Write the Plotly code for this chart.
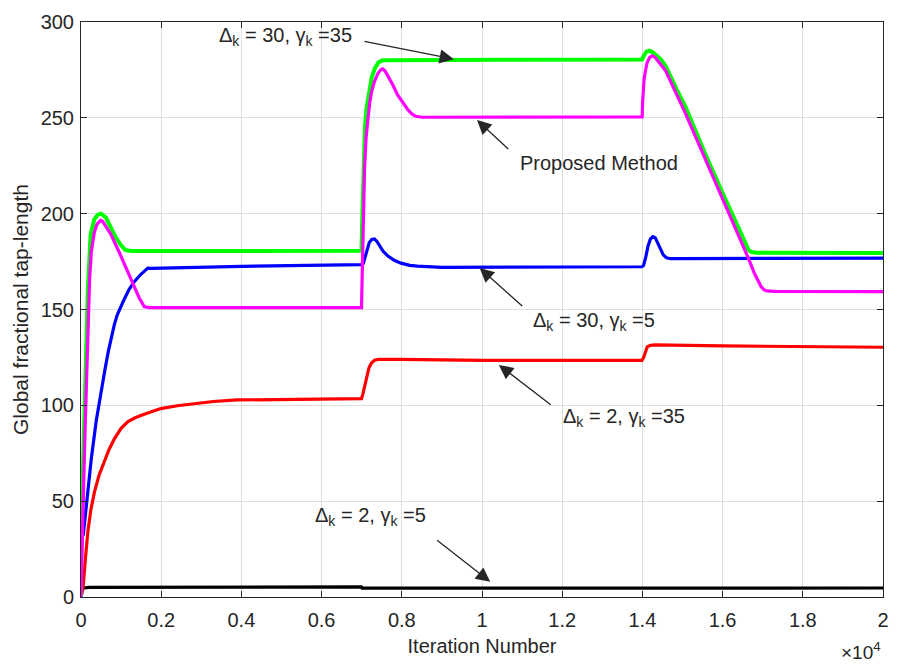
import plotly.graph_objects as go

# Iteration axis is in raw iterations; tick labels show the ×10^4 scaled values.
x_ticks = [0, 2000, 4000, 6000, 8000, 10000, 12000, 14000, 16000, 18000, 20000]
x_tick_text = ["0", "0.2", "0.4", "0.6", "0.8", "1", "1.2", "1.4", "1.6", "1.8", "2"]
y_ticks = [0, 50, 100, 150, 200, 250, 300]

# Δk = 30, γk = 35
green_x = [0, 10, 60, 100, 170, 240, 330, 420, 500, 620, 750, 870, 1000, 1110, 1250, 4000, 6995,
           7005, 7025, 7050, 7080, 7120, 7180, 7250, 7330, 7420, 7520, 9000, 13995,
           14040, 14100, 14170, 14250, 14350, 14460, 14580, 14700, 14850, 15070, 15570, 16060, 16480,
           16580, 16650, 16720, 16850, 20000]
green_y = [0, 32, 75, 110, 160, 189, 197, 199.5, 200, 198, 192.5, 187.5, 183.5, 181, 180.5, 180.5, 180.6,
           190, 210, 232, 245, 255, 264, 271, 276, 279, 280, 280, 280.5,
           282.5, 284.5, 285, 284.3, 282.5, 280.5, 277, 271.5, 265, 256, 231, 208, 189,
           184, 181, 180, 179.6, 179.5]

# Proposed method
mag_x = [0, 30, 70, 107, 132, 173, 215, 256, 330, 400, 450, 490, 540, 600, 680, 751, 950, 1163, 1350, 1452,
         1576, 1700, 6995,
         7003, 7020, 7040, 7070, 7110, 7153, 7200, 7250, 7320, 7400, 7470, 7524, 7580, 7650, 7720, 7780,
         7895, 8020, 8143, 8250, 8349, 8500, 13995,
         14005, 14020, 14041, 14080, 14120, 14180, 14248, 14320, 14400, 14490, 14578, 15073, 15650, 16228,
         16640, 16800, 16888, 16960, 17030, 17100, 17300, 20000]
mag_y = [0, 32, 62, 91, 112, 146, 166, 180, 190, 194.5, 196, 196.5, 196, 194, 191.5, 189, 180, 170, 161, 156,
         151.5, 151, 151,
         160, 180, 200, 223, 240, 250, 258, 264, 269, 273, 275, 275.5, 274.5, 272, 269.5, 267,
         262, 258, 254.5, 252, 250.8, 250.3, 250.5,
         258, 265, 270, 275, 279, 281.5, 282.3, 281.5, 279.5, 277, 274.6, 252.3, 224.9, 197.5,
         176.9, 168.5, 164.8, 162, 160.3, 159.7, 159.5, 159.3]

# Δk = 30, γk = 5
blue_x = [55, 110, 170, 256, 380, 503, 600, 680, 751, 830, 900, 1000, 1081, 1200, 1328, 1500, 1666, 1750,
          4000, 6990,
          7040, 7080, 7130, 7190, 7250, 7318, 7380, 7450, 7530, 7648, 7800, 7977, 8200, 8390, 9000, 13990,
          14030, 14080, 14140, 14200, 14260, 14320, 14380, 14450, 14520, 14600, 14700, 14900, 20000]
blue_y = [32, 43, 54, 72, 92, 108, 119, 128, 135, 142, 147, 152, 155.5, 160.5, 164.5, 168.5, 171.6, 171.5,
          172.5, 173.4,
          174, 177, 181, 185, 186.5, 186.8, 185.5, 183, 180.5, 178, 175.8, 174.2, 173, 172.6, 172, 172.3,
          173, 177, 183, 186.8, 188, 187.5, 185, 181.5, 178.5, 177, 176.5, 176.5, 176.8]

# Δk = 2, γk = 35
red_x = [0, 50, 110, 173, 250, 338, 450, 586, 700, 833, 1000, 1163, 1350, 1576, 1800, 1988, 2400, 2813,
         3300, 3886, 5420, 6995,
         7030, 7080, 7130, 7180, 7240, 7320, 7420, 8000, 10000, 13990,
         14030, 14070, 14120, 14200, 14320, 16000, 20000]
red_y = [0, 4.6, 20, 34.5, 46, 55, 63.5, 70.5, 77, 82.5, 88, 91.4, 93.5, 95.4, 97, 98.3, 99.8, 101,
         102, 102.8, 103.2, 103.5,
         106, 111, 116, 119.5, 122, 123.5, 124, 124, 123.5, 123.5,
         125, 128, 130.5, 131.3, 131.5, 131, 130.3]

# Δk = 2, γk = 5
black_x = [0, 30, 200, 3000, 6990, 7010, 12000, 20000]
black_y = [0, 4.6, 5.0, 5.2, 5.3, 4.6, 4.6, 4.7]

series = [
    (black_x, black_y, "#000000", 3.2),
    (red_x, red_y, "#ff0000", 3.2),
    (blue_x, blue_y, "#0000ff", 3.2),
    (green_x, green_y, "#00ff00", 4.0),
    (mag_x, mag_y, "#ff00ff", 3.2),
]

fig = go.Figure()
for xs, ys, col, w in series:
    fig.add_trace(go.Scatter(x=xs, y=ys, mode="lines",
                             line=dict(color=col, width=w, shape="linear"),
                             showlegend=False, hoverinfo="skip"))

FONT = "Liberation Sans, Arial, sans-serif"
INK = "#262626"

# label text: (text, x, y) anchored at the left edge
labels = [
    ("Δ<sub>k</sub> = 30, γ<sub>k</sub> =35", 3391, 292.5),
    ("Proposed Method", 10907, 226.5),
    ("Δ<sub>k</sub> = 30, γ<sub>k</sub> =5", 11227, 144.0),
    ("Δ<sub>k</sub> = 2, γ<sub>k</sub> =35", 11979, 93.5),
    ("Δ<sub>k</sub> = 2, γ<sub>k</sub> =5", 5792, 42.0),
]
# arrows: (tail x, tail y, head x, head y)
arrows = [
    (7029, 290.0, 9299, 280.6),
    (10692, 233.0, 9875, 248.9),
    (11039, 151.1, 9942, 171.7),
    (11751, 99.7, 10420, 121.1),
    (8844, 30.2, 10205, 7.9),
]

annotations = []
for t, x, y in labels:
    annotations.append(dict(text=t, x=x, y=y, xref="x", yref="y", xanchor="left", yanchor="middle",
                            showarrow=False, font=dict(family=FONT, size=20, color=INK)))
for ax, ay, hx, hy in arrows:
    annotations.append(dict(text="", x=hx, y=hy, ax=ax, ay=ay, xref="x", yref="y",
                            axref="x", ayref="y", showarrow=True, arrowhead=2,
                            arrowsize=2.2, arrowwidth=1.3, arrowcolor=INK, standoff=0, startstandoff=0))
annotations.append(dict(text="×10<sup>4</sup>", x=1.0, y=-0.094, xref="paper", yref="paper",
                        xanchor="right", yanchor="middle", showarrow=False,
                        font=dict(family=FONT, size=19, color=INK)))

axis_common = dict(showline=True, linecolor=INK, linewidth=1, mirror="ticks", ticks="inside",
                   ticklen=6, tickcolor=INK, tickwidth=1, showgrid=True, gridcolor="#dedede",
                   gridwidth=1, zeroline=False, tickfont=dict(family=FONT, size=20, color=INK))

fig.update_layout(
    width=900, height=665,
    margin=dict(l=81, r=11, t=14, b=68),
    paper_bgcolor="white", plot_bgcolor="white",
    xaxis=dict(range=[0, 20000], tickvals=x_ticks, ticktext=x_tick_text, ticklabelstandoff=5,
               title=dict(text="Iteration Number", font=dict(family=FONT, size=20, color=INK), standoff=8),
               **axis_common),
    yaxis=dict(range=[0, 300], tickvals=y_ticks, ticklabelstandoff=2,
               title=dict(text="Global fractional tap-length", font=dict(family=FONT, size=21, color=INK), standoff=6),
               **axis_common),
    annotations=annotations,
)

fig.write_html("out.html")
